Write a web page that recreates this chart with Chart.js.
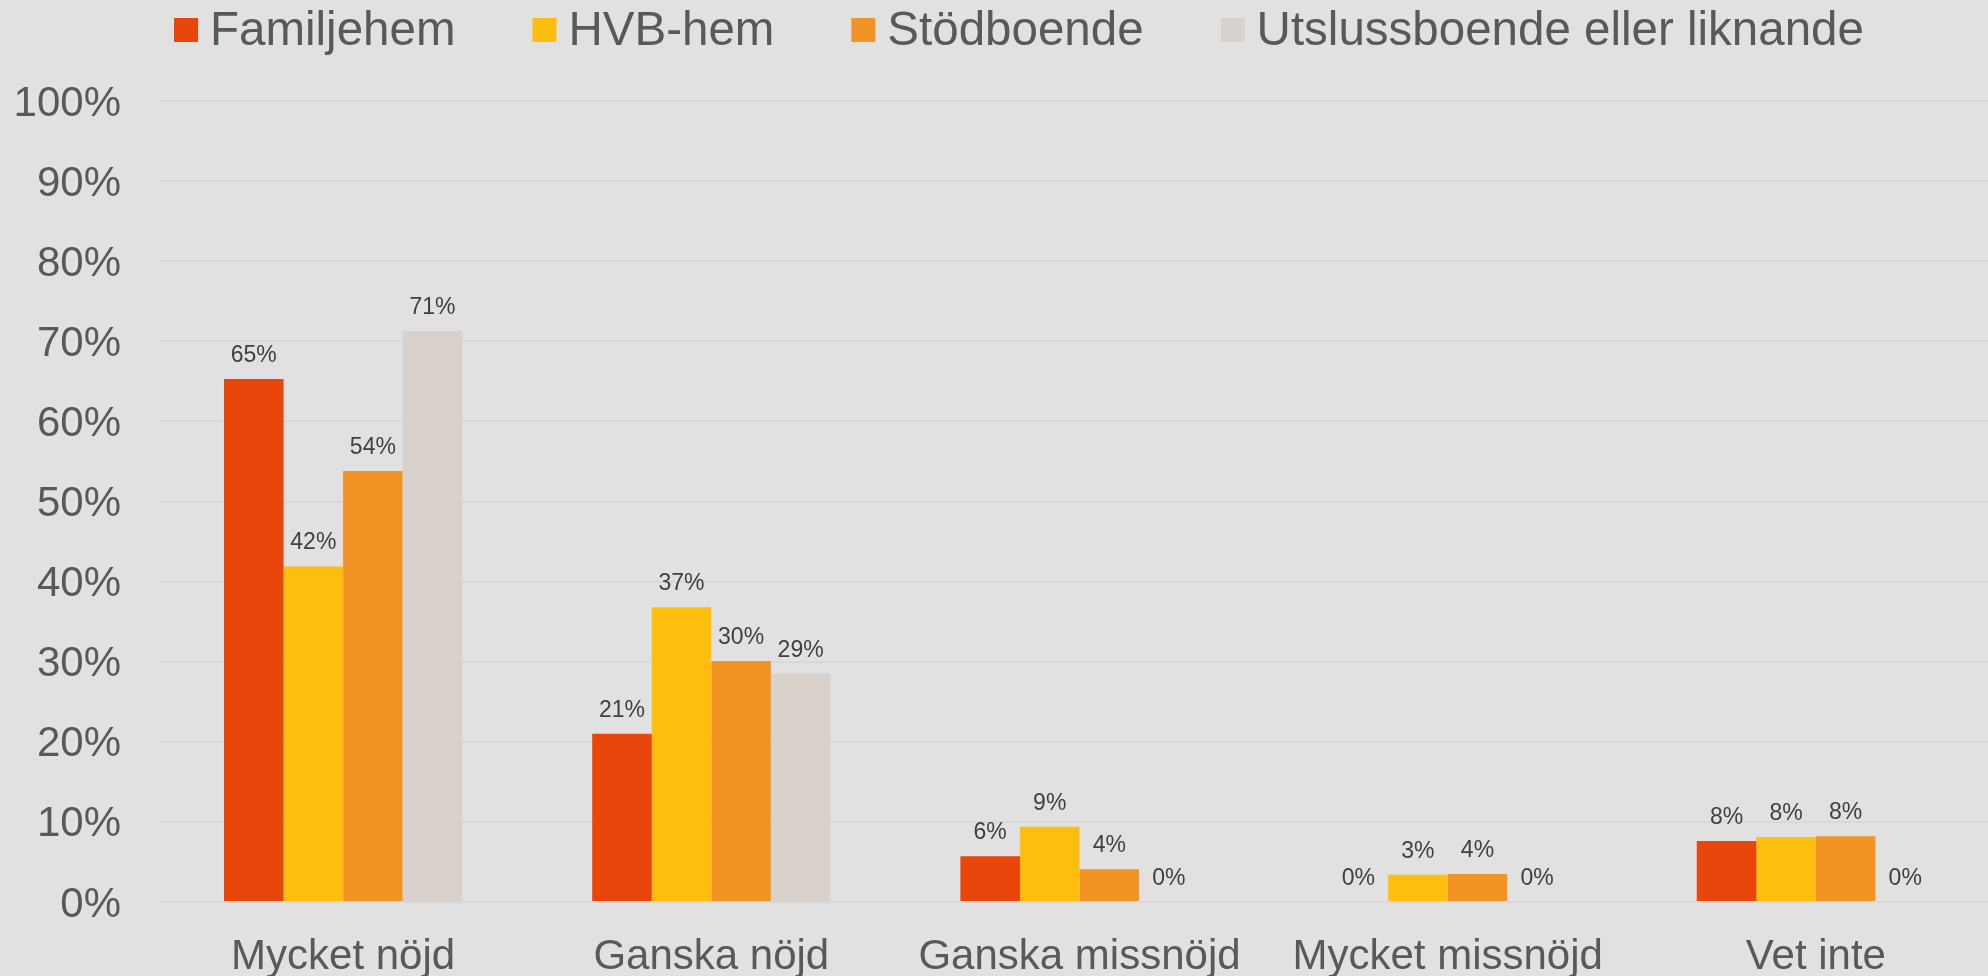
<!DOCTYPE html>
<html lang="sv">
<head>
<meta charset="utf-8">
<title>Nöjdhet per boendeform</title>
<script src="https://cdn.jsdelivr.net/npm/chart.js@4.4.1/dist/chart.umd.min.js"></script>
<style>
    html, body {
        margin: 0;
        padding: 0;
        background: #e1e1e1;
        overflow: hidden;
    }
    #wrap {
        width: 2000px;
        height: 976px;
        position: relative;
    }
</style>
</head>
<body>
<div id="wrap"><canvas id="chart"></canvas></div>
<script>
// Svarskategorier på x-axeln
const categories = ['Mycket nöjd', 'Ganska nöjd', 'Ganska missnöjd', 'Mycket missnöjd', 'Vet inte'];

// Andel svar per boendeform (%)
const familjehem = [65.3, 21.0, 5.7, 0, 7.6];
const hvbHem = [41.9, 36.8, 9.4, 3.4, 8.1];
const stodboende = [53.8, 30.1, 4.1, 3.5, 8.2];
const utsluss = [71.3, 28.5, 0, 0, 0];

const seriesNames = ['Familjehem', 'HVB-hem', 'Stödboende', 'Utslussboende eller liknande'];
const seriesColors = ['#e8460a', '#ffbe0d', '#f29325', '#d9d1cb'];

// Y-axelns tickar
const yTicks = [0, 10, 20, 30, 40, 50, 60, 70, 80, 90, 100];

const FONT = '"Liberation Sans", Arial, Helvetica, sans-serif';

// Egen legend, ritad överst på canvasen
const topLegend = {
    id: 'topLegend',
    afterDraw(chart, args, opts) {
        const ctx = chart.ctx;
        ctx.save();
        ctx.font = `${opts.size}px ${FONT}`;
        ctx.textBaseline = 'alphabetic';
        ctx.textAlign = 'left';
        let x = opts.x;
        chart.data.datasets.forEach(ds => {
            ctx.fillStyle = ds.backgroundColor;
            ctx.fillRect(x, opts.y, opts.box, opts.box);
            x += opts.box + opts.gap;
            ctx.fillStyle = opts.color;
            ctx.fillText(ds.label, x, opts.baseline);
            x += ctx.measureText(ds.label).width + opts.spacing;
        });
        ctx.restore();
    }
};

// Värdeetiketter ovanför staplarna
const valueLabels = {
    id: 'valueLabels',
    afterDatasetsDraw(chart, args, opts) {
        const ctx = chart.ctx;
        ctx.save();
        ctx.font = `${opts.size}px ${FONT}`;
        ctx.fillStyle = opts.color;
        ctx.textAlign = 'center';
        ctx.textBaseline = 'alphabetic';
        chart.data.datasets.forEach((ds, di) => {
            const meta = chart.getDatasetMeta(di);
            meta.data.forEach((bar, i) => {
                const v = ds.data[i];
                ctx.fillText(Math.round(v) + '%', bar.x, bar.y - opts.offset);
            });
        });
        ctx.restore();
    }
};

const datasets = [familjehem, hvbHem, stodboende, utsluss].map((data, i) => ({
    label: seriesNames[i],
    data: data,
    backgroundColor: seriesColors[i],
    borderWidth: 0,
    categoryPercentage: 0.647,
    barPercentage: 1
}));

new Chart(document.getElementById('chart'), {
    type: 'bar',
    data: {
        labels: categories,
        datasets: datasets
    },
    options: {
        responsive: true,
        maintainAspectRatio: false,
        animation: false,
        layout: {
            padding: { top: 101, right: 0, bottom: 0, left: 0 }
        },
        plugins: {
            legend: { display: false },
            tooltip: { enabled: false },
            topLegend: {
                x: 174, y: 18, box: 24, gap: 12, spacing: 77,
                baseline: 45, size: 47.5, color: '#595959'
            },
            valueLabels: { size: 23, color: '#404040', offset: 17 }
        },
        scales: {
            x: {
                grid: { display: false },
                border: { display: false },
                ticks: {
                    color: '#595959',
                    font: { family: FONT, size: 42 },
                    padding: 22,
                    maxRotation: 0
                },
                afterFit(scale) { scale.height = 74; }
            },
            y: {
                min: 0,
                max: 100,
                afterBuildTicks(scale) {
                    scale.ticks = yTicks.map(v => ({ value: v }));
                },
                grid: {
                    color: '#d8d8d8',
                    lineWidth: 2,
                    drawTicks: false
                },
                border: { display: false },
                ticks: {
                    color: '#595959',
                    font: { family: FONT, size: 42 },
                    padding: 38,
                    labelOffset: 3,
                    callback: v => v + '%'
                },
                afterFit(scale) { scale.width = 159; }
            }
        }
    },
    plugins: [topLegend, valueLabels]
});
</script>
</body>
</html>
